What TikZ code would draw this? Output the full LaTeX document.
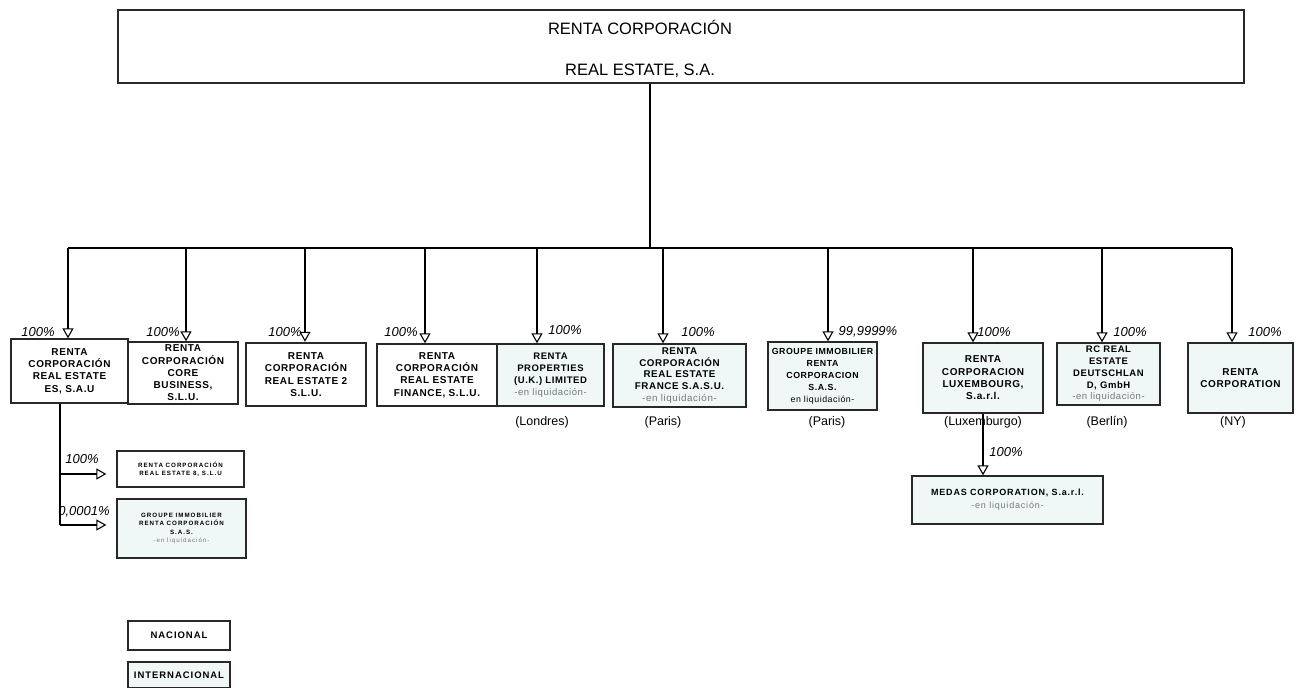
\documentclass[tikz,border=0pt]{standalone}
\usepackage{fontspec}
\setmainfont{Liberation Sans}
\newfontfamily\boxfont[LetterSpace=6]{Liberation Sans}
\newfontfamily\tinyfont[LetterSpace=16]{Liberation Sans}
\newfontfamily\medasfont[LetterSpace=9]{Liberation Sans}
\newfontfamily\legfont[LetterSpace=10]{Liberation Sans}
\usetikzlibrary{arrows.meta}
\definecolor{intl}{RGB}{240,247,247}
\definecolor{edge}{RGB}{40,40,40}
\definecolor{liqc}{RGB}{120,120,120}
\tikzset{
  box/.style={draw=edge, line width=1.3pt, inner sep=1pt, align=center,
    font=\boxfont\bfseries\fontsize{10}{12.3}\selectfont},
  ibox/.style={box, fill=intl},
  tiny/.style={font=\tinyfont\bfseries\fontsize{6.2}{8.5}\selectfont},
  pct/.style={font=\fontsize{13}{15}\selectfont\itshape, inner sep=0pt},
  city/.style={font=\fontsize{12.5}{14}\selectfont, inner sep=0pt},
  conn/.style={line width=1.1pt, draw=black},
  arr/.style={conn, -{Triangle[open, length=10pt, width=11pt, line width=1.1pt]}},
}
\newcommand{\liq}{{\mdseries\color{liqc}-en liquidación-}}
\begin{document}
\begin{tikzpicture}[x=1pt,y=-1pt]
\useasboundingbox (0,0) rectangle (1296,688);

% top box
\node[draw=edge, line width=1.3pt, minimum width=1126pt, minimum height=73pt, inner sep=0pt] (top) at (681,46.5) {};
\node[font=\fontsize{16.5}{18}\selectfont, inner sep=0pt] (top1) at (640,27) {RENTA CORPORACIÓN};
\node[font=\fontsize{16.5}{18}\selectfont, inner sep=0pt] (top2) at (640,71) {REAL ESTATE, S.A.};

% row of companies
\node[box, minimum width=117pt, minimum height=64pt] (b1) at (69.5,371) {RENTA\\CORPORACIÓN\\REAL ESTATE\\ES, S.A.U};
\node[box, minimum width=110pt, minimum height=62pt] (b2) at (183,373) {RENTA\\CORPORACIÓN\\CORE\\BUSINESS,\\S.L.U.};
\node[box, line width=2.4pt, minimum width=120pt, minimum height=63pt] (b3) at (306,374.5) {RENTA\\CORPORACIÓN\\REAL ESTATE 2\\S.L.U.};
\node[box, minimum width=120pt, minimum height=62pt] (b4) at (437,375) {RENTA\\CORPORACIÓN\\REAL ESTATE\\FINANCE, S.L.U.};
\node[ibox, minimum width=107pt, minimum height=62pt, font=\boxfont\bfseries\fontsize{9.5}{12}\selectfont] (b5) at (550.5,375) {RENTA\\PROPERTIES\\(U.K.) LIMITED\\\liq};
\node[ibox, minimum width=133pt, minimum height=63pt, font=\boxfont\bfseries\fontsize{9.8}{11.8}\selectfont] (b6) at (679.5,375.5) {RENTA\\CORPORACIÓN\\REAL ESTATE\\FRANCE S.A.S.U.\\\liq};
\node[ibox, minimum width=109pt, minimum height=68pt, font=\boxfont\bfseries\fontsize{8.8}{12}\selectfont] (b7) at (822.5,376) {GROUPE IMMOBILIER\\RENTA\\CORPORACION\\S.A.S.\\{\mdseries en liquidación-}};
\node[ibox, minimum width=120pt, minimum height=70pt] (b8) at (983,378) {RENTA\\CORPORACION\\LUXEMBOURG,\\S.a.r.l.};
\node[ibox, minimum width=103pt, minimum height=62pt, font=\boxfont\bfseries\fontsize{9.5}{11.8}\selectfont] (b9) at (1108.5,374) {RC REAL\\ESTATE\\DEUTSCHLAN\\D, GmbH\\\liq};
\node[ibox, minimum width=105pt, minimum height=70pt] (b10) at (1240.5,378) {RENTA\\CORPORATION};

% city labels
\node[city] (c5) at (542,422) {(Londres)};
\node[city] (c6) at (663,422) {(Paris)};
\node[city] (c7) at (827,422) {(Paris)};
\node[city] (c8) at (983,422) {(Luxemburgo)};
\node[city] (c9) at (1107,422) {(Berlín)};
\node[city] (c10) at (1233,422) {(NY)};

% bus and arrows
\coordinate (t) at (650,248);
\coordinate (a1) at (68,248);
\coordinate (a2) at (186,248);
\coordinate (a3) at (305,248);
\coordinate (a4) at (425,248);
\coordinate (a5) at (537,248);
\coordinate (a6) at (663,248);
\coordinate (a7) at (828,248);
\coordinate (a8) at (973,248);
\coordinate (a9) at (1102,248);
\coordinate (a10) at (1232,248);
\draw[conn] (top.south -| t) -- (t);
\draw[conn] (a1) -- (a10);
\foreach \i in {1,...,10}{
  \draw[arr] (a\i) -- (a\i |- b\i.north);
}

% percentages
\node[pct] (p1) at (38,332) {100\%};
\node[pct] (p2) at (163,332) {100\%};
\node[pct] (p3) at (285,332) {100\%};
\node[pct] (p4) at (401,332) {100\%};
\node[pct] (p5) at (565,330) {100\%};
\node[pct] (p6) at (698,332) {100\%};
\node[pct] (p7) at (868,332) {99,9999\%};
\node[pct] (p8) at (994,332) {100\%};
\node[pct] (p9) at (1130,332) {100\%};
\node[pct] (p10) at (1265,332) {100\%};

% lower-left subsidiaries
\node[box, tiny, minimum width=127pt, minimum height=36pt] (sA) at (180.5,469) {RENTA CORPORACIÓN\\REAL ESTATE 8, S.L.U};
\node[ibox, tiny, minimum width=129pt, minimum height=59pt] (sB) at (181.5,528.5) {GROUPE IMMOBILIER\\RENTA CORPORACIÓN\\S.A.S.\\\liq};
\coordinate (v0) at (60,474);
\coordinate (v1) at (60,525);
\draw[conn] (b1.south -| v0) -- (v1);
\draw[arr] (v0) -- ([xshift=-10pt]sA.west |- v0);
\draw[arr] (v1) -- ([xshift=-10pt]sB.west |- v1);
\node[pct] (pA) at (82,459) {100\%};
\node[pct] (pB) at (84,512) {0,0001\%};

% MEDAS
\node[ibox, minimum width=191pt, minimum height=48pt, font=\medasfont\bfseries\fontsize{9}{13}\selectfont] (medas) at (1007.5,500) {MEDAS CORPORATION, S.a.r.l.\\\liq};
\draw[arr] (b8.south) -- (b8.south |- medas.north);
\node[pct] (pM) at (1006,452) {100\%};

% legend
\node[draw=edge, line width=1.3pt, minimum width=102pt, minimum height=29pt, inner sep=0pt, font=\legfont\bfseries\fontsize{9.5}{11}\selectfont] (legN) at (179,635.5) {NACIONAL};
\node[draw=edge, fill=intl, line width=1.3pt, minimum width=102pt, minimum height=26pt, inner sep=0pt, font=\legfont\bfseries\fontsize{9.5}{11}\selectfont] (legI) at (179,675) {INTERNACIONAL};
\end{tikzpicture}
\end{document}
